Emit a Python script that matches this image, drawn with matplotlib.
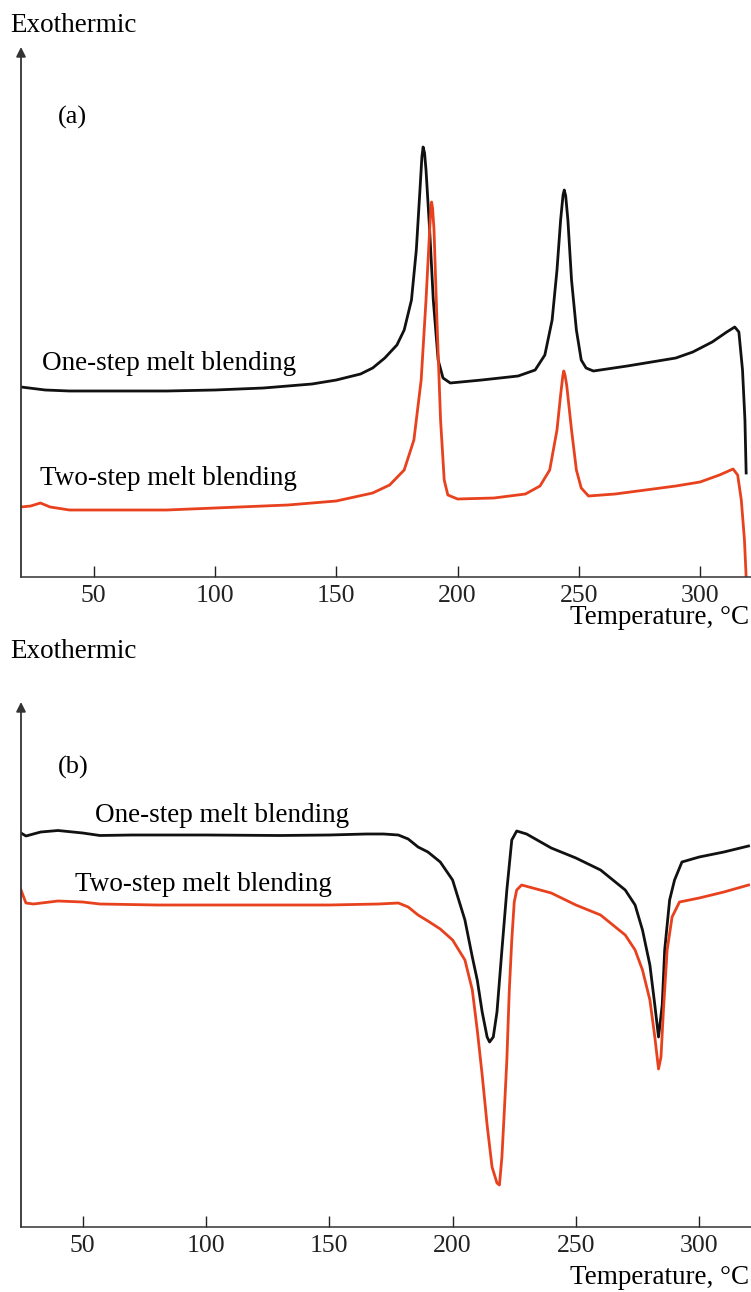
import matplotlib

matplotlib.use("Agg")
import matplotlib.pyplot as plt

# Panel (a): cooling, exothermic peaks (arbitrary heat-flow units)
T_A_ONE = [20, 30, 40, 50, 80, 100, 120, 140, 150, 160, 165, 170, 175, 178, 181, 183,
           184.5, 185.3, 185.8, 186.4, 187, 188.5, 190, 192, 194, 197, 210, 225, 232,
           236, 239, 241, 242.5, 243.5, 244, 244.6, 245.5, 247, 249, 251, 253, 256,
           270, 290, 297, 305, 311, 314.3, 316, 317.5, 318.5, 319]
Y_A_ONE = [190, 187, 186, 186, 186, 187, 189, 193, 197, 203, 209, 219, 232, 247, 277, 327,
           387, 420, 430, 424, 407, 347, 277, 217, 199, 194, 197, 201, 207,
           222, 257, 307, 357, 382, 387, 381, 357, 297, 247, 217, 209, 206,
           211, 219, 225, 235, 245, 250, 245, 207, 157, 104]

T_A_TWO = [20, 24, 28, 32, 40, 60, 80, 100, 130, 150, 165, 172, 178, 182, 185, 187,
           188.5, 189, 189.3, 189.7, 190.3, 191.5, 193, 194.5, 196, 200, 215, 228, 234,
           238, 241, 242.5, 243.4, 243.8, 244.3, 245, 247, 249, 251, 254, 265, 290,
           300, 308, 313.6, 315.5, 317, 318.3, 319]
Y_A_TWO = [70, 71, 74, 70, 67, 67, 67, 69, 72, 76, 84, 92, 107, 137, 197, 277,
           347, 368, 375, 369, 347, 257, 157, 97, 82, 78, 79, 83, 91,
           107, 147, 182, 201, 206, 202, 192, 147, 107, 89, 81, 83, 91,
           95, 102, 108, 102, 77, 37, 0]

# Panel (b): heating, endothermic peaks
T_B_ONE = [25, 27, 33, 40, 50, 57, 70, 100, 130, 150, 165, 172, 178, 182, 186, 190,
           195, 200, 205, 208, 210, 212, 214, 215, 216.5, 218, 220, 222, 224, 226,
           230, 240, 250, 260, 270, 274, 277, 280, 282, 283.5, 285, 286, 288, 290,
           293, 300, 310, 320]
Y_B_ONE = [394, 391, 395, 396.5, 394, 391.5, 392, 392, 391.5, 392, 393, 393, 392, 388, 380, 375,
           365, 347, 307, 270, 247, 215, 190, 185, 190, 215, 277, 337, 387, 396,
           393, 379, 369, 357, 337, 322, 297, 262, 222, 190, 222, 277, 327, 347,
           365, 370, 375, 381]

T_B_TWO = [25, 27, 30, 40, 50, 57, 80, 100, 130, 150, 170, 178, 182, 186, 190, 195,
           200, 205, 208, 210, 212, 214, 216, 218, 219, 220, 221, 222, 223, 224, 225,
           226, 228, 240, 250, 260, 270, 274, 277, 280, 282, 283.5, 284.5, 285.5, 287,
           289, 292, 300, 310, 320]
Y_B_TWO = [337, 324, 323, 326, 325, 323, 322, 322, 322, 322, 323, 324, 320, 312, 306, 298,
           287, 267, 237, 197, 152, 102, 60, 44, 42, 70, 117, 167, 237, 287, 325,
           337, 342, 334, 322, 312, 292, 277, 257, 227, 190, 158, 170, 217, 277,
           310, 325, 329, 335, 342]

XTICKS = [50, 100, 150, 200, 250, 300]
BLACK = "#111111"
RED = "#E8411E"
FONT = "Liberation Serif"

W, H = 751, 1292


def fx(px):
    return px / W


def fy(py):
    return 1 - py / H


def style_axes(ax, xlim, ylim):
    ax.set_xlim(*xlim)
    ax.set_ylim(*ylim)
    ax.set_xticks(XTICKS)
    ax.set_yticks([])
    ax.tick_params(axis="x", direction="in", length=8, width=1.0, pad=6,
                   labelsize=18.5, colors="#222222")
    for lab in ax.get_xticklabels():
        lab.set_fontfamily(FONT)
    for side in ("top", "right", "left"):
        ax.spines[side].set_visible(False)
    ax.spines["bottom"].set_linewidth(1.1)
    ax.spines["bottom"].set_color("#333333")
    ax.annotate("", xy=(0, 1), xytext=(0, 0), xycoords="axes fraction",
                arrowprops=dict(arrowstyle="-|>", color="#333333", lw=1.3,
                                mutation_scale=14, shrinkA=0, shrinkB=0))


fig = plt.figure(figsize=(W / 100, H / 100), dpi=100)

ax_a = fig.add_axes([fx(21), fy(577), fx(751) - fx(21), fy(47) - fy(577)])
ax_a.plot(T_A_ONE, Y_A_ONE, color=BLACK, lw=2.0, solid_joinstyle="round")
ax_a.plot(T_A_TWO, Y_A_TWO, color=RED, lw=2.0, solid_joinstyle="round")
style_axes(ax_a, (20, 321), (0, 530))
ax_a.text(35.3, 460, "(a)", fontsize=19, family=FONT, va="center", ha="left")
ax_a.text(28.7, 214, "One-step melt blending", fontsize=19.5, family=FONT, va="center", ha="left")
ax_a.text(27.8, 99, "Two-step melt blending", fontsize=19.5, family=FONT, va="center", ha="left")

ax_b = fig.add_axes([fx(21), fy(1227), fx(751) - fx(21), fy(702) - fy(1227)])
ax_b.plot(T_B_ONE, Y_B_ONE, color=BLACK, lw=2.0, solid_joinstyle="round")
ax_b.plot(T_B_TWO, Y_B_TWO, color=RED, lw=2.0, solid_joinstyle="round")
style_axes(ax_b, (25, 321), (0, 525))
ax_b.text(40, 460, "(b)", fontsize=19, family=FONT, va="center", ha="left")
ax_b.text(55, 411, "One-step melt blending", fontsize=19.5, family=FONT, va="center", ha="left")
ax_b.text(46.9, 342, "Two-step melt blending", fontsize=19.5, family=FONT, va="center", ha="left")

for top_y, temp_y in ((25, 618), (651, 1278)):
    fig.text(fx(10), fy(top_y), "Exothermic", fontsize=19.5, family=FONT, va="center", ha="left")
    fig.text(fx(749), fy(temp_y), "Temperature, °C", fontsize=19.5, family=FONT,
             va="center", ha="right")

fig.savefig("out.png", dpi=100, facecolor="white")
